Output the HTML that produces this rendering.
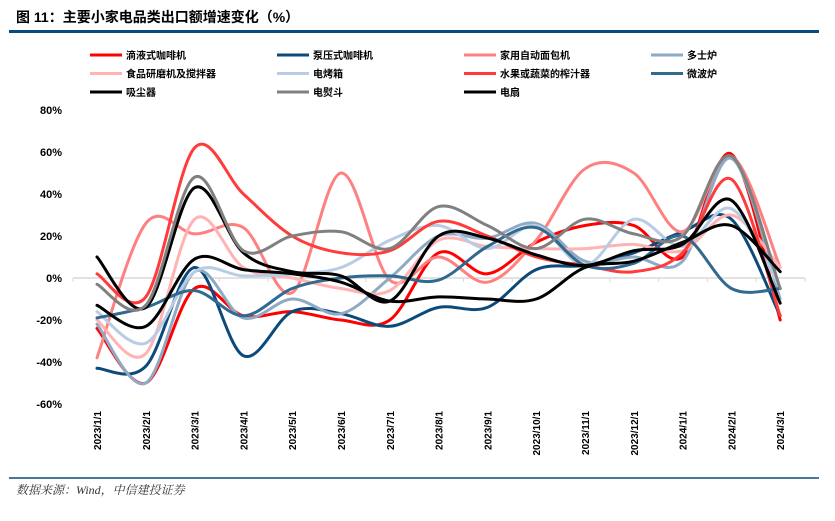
<!DOCTYPE html>
<html><head><meta charset="utf-8">
<style>
body{margin:0;background:#fff;width:835px;height:516px;overflow:hidden;font-family:"Liberation Sans","Noto Sans CJK SC",sans-serif;}
</style></head><body>
<svg id="s" width="835" height="516" xmlns="http://www.w3.org/2000/svg" font-family="Liberation Sans, Noto Sans CJK SC, sans-serif">
<text x="16" y="22" font-size="14" font-weight="bold" fill="#000">图 11：主要小家电品类出口额增速变化（%）</text>
<rect x="9" y="30" width="810" height="3" fill="#0b4a7a"/>
<line x1="9" y1="478" x2="819" y2="478" stroke="#0b4a7a" stroke-width="1.5"/>
<text x="16" y="494" font-size="12" font-style="italic" font-family="Liberation Serif, Noto Serif CJK SC, serif" fill="#333">数据来源：Wind，中信建投证券</text>
<g id="leg" font-size="10" font-weight="bold"></g>
<g id="ax" font-size="11" font-weight="bold"></g>
<g id="lines" fill="none" stroke-width="3" stroke-linecap="round"></g>
</svg>
<script>
const S=document.getElementById('s'),NS='http://www.w3.org/2000/svg';
function el(p,t,a,txt){const e=document.createElementNS(NS,t);for(const k in a)e.setAttribute(k,a[k]);if(txt)e.textContent=txt;p.appendChild(e);return e;}
const y0=278,k=2.1,x0=97,dx=48.8;
const Y=v=>y0-v*k,X=i=>x0+i*dx;
const ax=document.getElementById('ax');
for(let v=80;v>=-60;v-=20){el(ax,'text',{x:62,y:Y(v)+4,'text-anchor':'end'},v+'%');}
el(ax,'line',{x1:73,y1:y0,x2:805,y2:y0,stroke:'#d9d9d9','stroke-width':1.5});
const labs=['2023/1/1','2023/2/1','2023/3/1','2023/4/1','2023/5/1','2023/6/1','2023/7/1','2023/8/1','2023/9/1','2023/10/1','2023/11/1','2023/12/1','2024/1/1','2024/2/1','2024/3/1'];
for(let i=0;i<=15;i++){el(ax,'line',{x1:73+i*dx,y1:y0,x2:73+i*dx,y2:y0+4,stroke:'#d9d9d9'});}
labs.forEach((l,i)=>{el(ax,'text',{x:0,y:0,transform:`translate(${X(i)+4},411) rotate(-90)`,'text-anchor':'end','font-size':10},l);});
const series=[
['滴液式咖啡机','#ff0000',[-24,-50,-5,-18,-16,-20,-20,12,2,17,25,25,10,59,-20]],
['泵压式咖啡机','#0b4a7a',[-43,-42,5,-37,-16,-17,-23,-14,-14,4,6,12,22,28,-18]],
['家用自动面包机','#ff8080',[-38,26,21,24,-7,50,-1,10,-2,18,52,50,22,58,5]],
['多士炉','#8eaac4',[-22,-50,3,-19,-10,-17,0,20,19,26,8,10,8,57,-10]],
['食品研磨机及搅拌器','#ffb3b3',[-20,-36,28,5,0,-5,-6,18,15,14,14,16,13,30,5]],
['电烤箱','#b8cce4',[-16,-31,3,1,2,5,18,25,14,25,6,28,15,33,-5]],
['水果或蔬菜的榨汁器','#ff3b3b',[2,-9,62,40,20,12,13,27,20,10,6,3,12,47,-18]],
['微波炉','#31698f',[-19,-14,-6,-18,-5,0,1,-1,15,24,6,7,20,-5,-5]],
['吸尘器','#000000',[10,-14,43,12,3,1,-11,20,19,11,6,13,16,37,-12]],
['电熨斗','#808080',[-3,-13,48,13,20,22,14,34,25,14,28,21,20,58,-5]],
['电扇','#000000',[-13,-23,9,4,2,-2,-11,-9,-10,-10,5,8,17,25,3]]];
const leg=document.getElementById('leg');
series.forEach((s,i)=>{const c=i%4,r=Math.floor(i/4);const lx=90+c*187,ly=55+r*18.5;
el(leg,'line',{x1:lx,y1:ly,x2:lx+32,y2:ly,stroke:s[1],'stroke-width':3});
el(leg,'text',{x:lx+36,y:ly+4},s[0]);});
const g=document.getElementById('lines');
series.forEach(s=>{const p=s[2].map((v,i)=>[X(i),Y(v)]);let d=`M${p[0][0]},${p[0][1]}`;
for(let i=0;i<p.length-1;i++){const a=p[Math.max(i-1,0)],b=p[i],c=p[i+1],e=p[Math.min(i+2,p.length-1)];
d+=` C${b[0]+(c[0]-a[0])/6},${b[1]+(c[1]-a[1])/6} ${c[0]-(e[0]-b[0])/6},${c[1]-(e[1]-b[1])/6} ${c[0]},${c[1]}`;}
el(g,'path',{d:d,stroke:s[1]});});
</script>
</body></html>
